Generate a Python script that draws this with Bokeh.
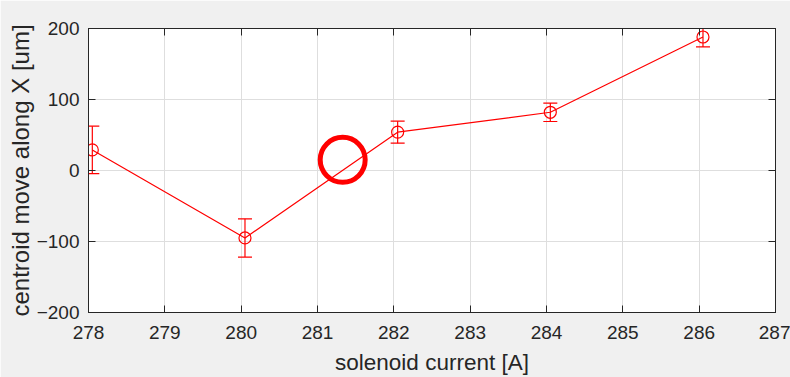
from bokeh.plotting import figure
from bokeh.models import ColumnDataSource, Whisker, TeeHead, LinearAxis, FixedTicker
from bokeh.embed import file_html
from bokeh.resources import INLINE

# data
current = [278.05, 280.05, 282.05, 284.05, 286.05]
move_x = [29, -95, 54, 82, 188]
err = [33.5, 27, 15.5, 13, 14]
highlight_x = [281.33]
highlight_y = [15]
x_ticks = [278, 279, 280, 281, 282, 283, 284, 285, 286, 287]
y_ticks = [-200, -100, 0, 100, 200]

src = ColumnDataSource(dict(
    x=current, y=move_x,
    upper=[m + e for m, e in zip(move_x, err)],
    lower=[m - e for m, e in zip(move_x, err)],
))

TXT = "#262626"
FONT = "Liberation Sans"

p = figure(width=790, height=377, x_range=(278, 287), y_range=(-200, 200),
           output_backend="svg", toolbar_location=None,
           background_fill_color="white", border_fill_color="#f0f0f0",
           min_border_left=88, min_border_right=15, min_border_top=28, min_border_bottom=65,
           outline_line_color=TXT, outline_line_width=1)

for ax in (p.xaxis[0], p.yaxis[0]):
    ax.axis_line_color = TXT
    ax.major_tick_line_color = TXT
    ax.major_tick_in = 7
    ax.major_tick_out = 0
    ax.minor_tick_line_color = None
    ax.major_label_text_font = FONT
    ax.major_label_text_font_size = "19px"
    ax.major_label_text_color = TXT
    ax.axis_label_text_font = FONT
    ax.axis_label_text_font_style = "normal"
    ax.axis_label_text_color = TXT

p.xaxis.axis_label_text_font_size = "22.5px"
p.yaxis.axis_label_text_font_size = "24px"
p.xaxis.ticker = FixedTicker(ticks=x_ticks)
p.yaxis.ticker = FixedTicker(ticks=y_ticks)
p.xaxis.axis_label = "solenoid current [A]"
p.yaxis.axis_label = "centroid move along X [um]"
p.xaxis.major_label_standoff = 13
p.xaxis.axis_label_standoff = 8
p.yaxis.major_label_standoff = 9
p.yaxis.axis_label_standoff = 0

p.xgrid.ticker = FixedTicker(ticks=x_ticks)
p.ygrid.ticker = FixedTicker(ticks=y_ticks)
p.grid.grid_line_color = "#dedede"
p.grid.grid_line_width = 1

for loc, ticks in (("right", y_ticks), ("above", x_ticks)):
    a = LinearAxis(ticker=FixedTicker(ticks=ticks),
                   major_label_overrides={t: "" for t in ticks},
                   major_label_text_font_size="1px",
                   major_label_standoff=0, axis_line_color=TXT, major_tick_line_color=TXT,
                   major_tick_in=7, major_tick_out=0, minor_tick_line_color=None)
    p.add_layout(a, loc)

p.line("x", "y", source=src, line_color="red", line_width=1.2)
p.add_layout(Whisker(source=src, base="x", upper="upper", lower="lower", dimension="height",
                     line_color="red", line_width=1.2,
                     upper_head=TeeHead(size=14, line_color="red", line_width=1.2),
                     lower_head=TeeHead(size=14, line_color="red", line_width=1.2)))
p.scatter("x", "y", source=src, marker="circle", size=12, line_color="red",
          fill_color=None, line_width=1.2)
p.scatter(highlight_x, highlight_y, marker="circle", size=45, line_color="red",
          fill_color=None, line_width=5)

open("out.html", "w").write(file_html(p, INLINE))
